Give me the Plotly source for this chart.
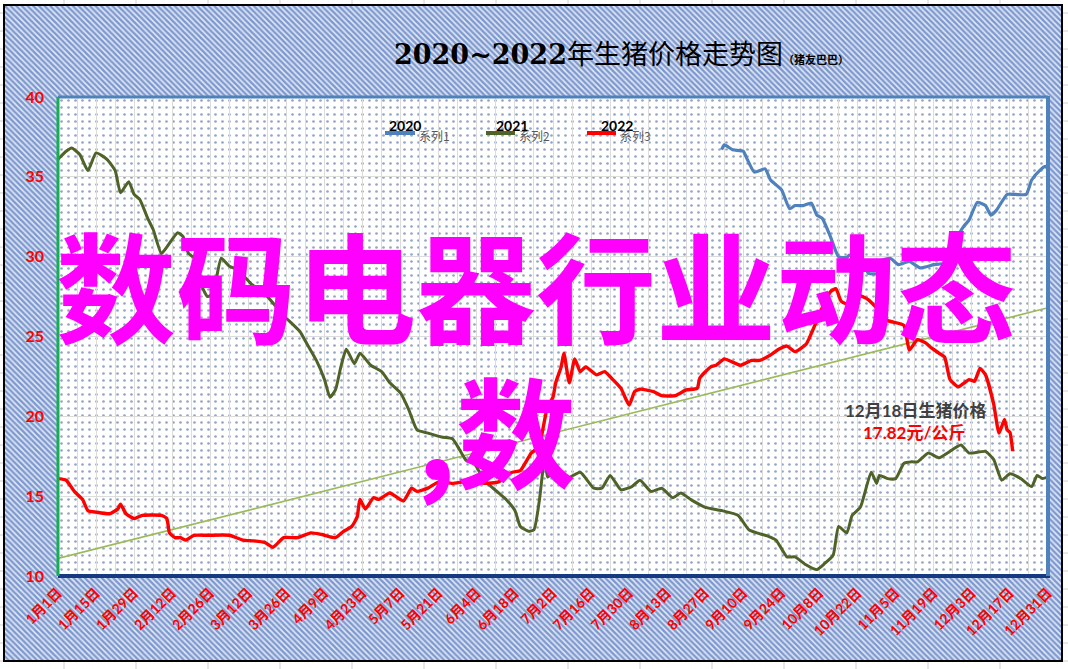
import plotly.graph_objects as go

W, H = 1068, 669


def px(x):
    return x / W


def py(y):
    return 1 - y / H


# ---------------- data ----------------
tick_days = [0, 14, 28, 42, 56, 70, 84, 98, 112, 126, 140, 154, 168, 182,
             196, 210, 224, 238, 252, 266, 280, 294, 308, 322, 336, 350, 364]
tick_labels = ["1月1日", "1月15日", "1月29日", "2月12日", "2月26日", "3月12日",
               "3月26日", "4月9日", "4月23日", "5月7日", "5月21日", "6月4日",
               "6月18日", "7月2日", "7月16日", "7月30日", "8月13日", "8月27日",
               "9月10日", "9月24日", "10月8日", "10月22日", "11月5日", "11月19日",
               "12月3日", "12月17日", "12月31日"]
y_ticks = [10, 15, 20, 25, 30, 35, 40]

series_names = ["系列1", "系列2", "系列3"]
series_years = ["2020", "2021", "2022"]

days_2020 = [244, 245, 248, 252, 253, 256, 260, 262, 266, 269, 271, 274, 277,
             279, 281, 284, 287, 290, 291, 295, 298, 301, 302, 306, 309, 313,
             317, 322, 326, 330, 333, 335, 338, 341, 343, 345, 349, 352, 356,
             358, 361, 363, 364]
price_2020 = [36.7, 37.0, 36.7, 36.6, 36.25, 35.3, 35.5, 34.8, 34.2, 33.0, 33.2,
              33.2, 33.35, 32.6, 32.4, 31.25, 30.0, 29.95, 30.1, 29.8, 28.95,
              28.95, 29.7, 29.9, 29.5, 29.7, 29.3, 29.5, 29.6, 31.05, 31.9, 32.3,
              33.4, 33.2, 32.6, 32.9, 33.9, 33.9, 33.9, 34.8, 35.4, 35.65, 35.5]

days_2021 = [0, 3, 5, 8, 11, 14, 18, 21, 23, 26, 28, 30, 33, 35, 38, 40, 44,
             46, 48, 51, 53, 55, 57, 60, 63, 66, 71, 77, 83, 89, 91, 95, 98,
             100, 102, 104, 106, 109, 111, 115, 119, 122, 126, 129, 132, 136,
             141, 145, 147, 150, 153, 156, 158, 162, 165, 168, 170, 173, 175,
             177, 179, 180, 183, 187, 192, 197, 200, 203, 207, 211, 214, 218,
             222, 226, 229, 233, 238, 244, 250, 254, 257, 261, 264, 268, 271,
             275, 279, 282, 285, 287, 290, 292, 295, 299, 301, 302, 305, 308,
             311, 314, 316, 320, 324, 327, 332, 335, 341, 344, 347, 350, 354,
             358, 360, 362, 364]
price_2021 = [36.1, 36.6, 36.8, 36.4, 35.4, 36.5, 36.1, 35.4, 34.0, 34.7, 33.9,
              33.6, 32.4, 31.7, 30.2, 30.6, 31.5, 31.25, 30.2, 29.8, 28.1, 27.5,
              27.7, 29.9, 29.4, 29.2, 28.3, 27.5, 26.3, 25.3, 24.7, 23.5, 22.3,
              21.2, 21.65, 23.1, 24.2, 23.3, 23.95, 23.2, 22.8, 22.1, 21.45, 20.4,
              19.15, 18.95, 18.7, 18.6, 18.1, 17.25, 17.05, 16.2, 15.8, 15.2,
              14.75, 14.1, 13.1, 12.8, 12.9, 14.75, 17.5, 16.2, 16.6, 16.1, 16.5,
              15.5, 15.5, 16.3, 15.4, 15.6, 16.0, 15.3, 15.5, 14.9, 15.2, 14.75,
              14.3, 14.1, 13.8, 12.9, 12.7, 12.5, 12.25, 11.2, 11.2, 10.7, 10.4,
              10.8, 11.3, 13.1, 12.7, 13.8, 14.3, 16.5, 15.8, 16.3, 16.1, 16.1,
              17.05, 17.15, 17.15, 17.7, 17.4, 17.7, 18.2, 17.7, 17.8, 17.3,
              16.0, 16.4, 16.1, 15.6, 16.3, 16.1, 16.2]

days_2022 = [0, 3, 6, 9, 11, 14, 19, 22, 23, 25, 28, 31, 38, 40, 41, 43, 45,
             47, 50, 55, 63, 68, 72, 76, 79, 83, 88, 93, 97, 102, 105, 108, 110,
             111, 113, 116, 118, 122, 127, 130, 132, 136, 140, 145, 149, 153,
             157, 162, 167, 170, 174, 177, 178, 180, 182, 183, 185, 186, 188,
             190, 192, 194, 198, 201, 204, 207, 210, 212, 214, 219, 222, 227,
             231, 235, 236, 240, 242, 245, 248, 251, 255, 258, 262, 265, 268,
             271, 275, 277, 279, 281, 284, 286, 288, 291, 294, 298, 302, 305,
             311, 313, 316, 319, 321, 324, 326, 328, 331, 335, 337, 339, 341,
             344, 346, 348, 349, 350, 351]
price_2022 = [16.1, 16.0, 15.3, 14.8, 14.1, 14.0, 13.9, 14.2, 14.5, 13.9, 13.6,
              13.8, 13.8, 13.6, 12.7, 12.4, 12.4, 12.25, 12.55, 12.55, 12.55,
              12.25, 12.2, 12.1, 11.8, 12.4, 12.4, 12.7, 12.6, 12.4, 12.8, 13.1,
              13.7, 14.8, 14.2, 14.9, 14.8, 15.2, 14.7, 15.5, 15.3, 15.5, 15.9,
              15.8, 15.9, 15.95, 15.8, 15.9, 16.5, 16.6, 17.7, 18.1, 18.95, 20.6,
              21.2, 22.1, 23.1, 23.95, 22.1, 23.6, 22.8, 23.1, 22.6, 22.8, 22.3,
              21.75, 20.7, 21.55, 21.7, 21.55, 21.3, 21.3, 21.65, 21.75, 22.4,
              23.1, 23.2, 23.6, 23.4, 23.2, 23.5, 23.5, 23.85, 24.2, 24.4, 24.05,
              24.5, 25.2, 26.0, 26.8, 27.8, 28.0, 27.2, 27.0, 27.6, 27.3, 26.6,
              26.0, 25.7, 24.15, 24.8, 24.6, 24.3, 23.95, 23.7, 22.3, 21.85, 22.3,
              22.2, 23.0, 22.6, 20.8, 18.95, 19.8, 19.15, 19.0, 17.82]

trend_days = [0, 364]
trend_values = [11.1, 26.8]

title_main = "2020~2022年生猪价格走势图"
title_sub = "（猪友巴巴）"
note_line1 = "12月18日生猪价格"
note_line2 = "17.82元/公斤"
overlay_line1 = "数码电器行业动态"
overlay_line2 = ",数"

# ---------------- styles ----------------
C_BLUE = "#4f81bd"
C_OLIVE = "#4f6228"
C_RED = "#ff0000"
C_TREND = "#9bbb59"
CJK = "Noto Sans CJK SC"

# plot area in pixels
PL, PR, PT, PB = 58, 1048, 97, 576
# frame in pixels
FL, FR, FT, FB = 4, 1062, 5, 661

fig = go.Figure()

# hatched chart-area background (subplot xy)
fig.add_trace(go.Bar(
    x=[0.5], y=[1], width=[1], xaxis="x", yaxis="y",
    marker=dict(color="#e4ebf7", line=dict(width=0),
                pattern=dict(shape="\\", size=4, solidity=0.62,
                             fgcolor="#1a48a8", bgcolor="#e4ebf7")),
    hoverinfo="skip", showlegend=False))

# dotted plot-area background (subplot x2y2)
fig.add_trace(go.Bar(
    x=[0.5], y=[1], width=[1], xaxis="x2", yaxis="y2",
    marker=dict(color="white", line=dict(width=0),
                pattern=dict(shape=".", size=7, solidity=0.12,
                             fgcolor="#2b4a86", bgcolor="white")),
    hoverinfo="skip", showlegend=False))

# data (subplot x3y3)
fig.add_trace(go.Scatter(
    x=trend_days, y=trend_values, mode="lines", xaxis="x3", yaxis="y3",
    line=dict(color=C_TREND, width=1.6), hoverinfo="skip", showlegend=False))
fig.add_trace(go.Scatter(
    x=days_2021, y=price_2021, mode="lines", name=series_names[1],
    xaxis="x3", yaxis="y3",
    line=dict(color=C_OLIVE, width=3, shape="spline", smoothing=0.5),
    showlegend=False))
fig.add_trace(go.Scatter(
    x=days_2020, y=price_2020, mode="lines", name=series_names[0],
    xaxis="x3", yaxis="y3",
    line=dict(color=C_BLUE, width=3.2, shape="spline", smoothing=0.5),
    showlegend=False))
fig.add_trace(go.Scatter(
    x=days_2022, y=price_2022, mode="lines", name=series_names[2],
    xaxis="x3", yaxis="y3",
    line=dict(color=C_RED, width=3.4, shape="spline", smoothing=0.5),
    showlegend=False))

hidden = dict(visible=False, fixedrange=True, range=[0, 1], automargin=False)
fig.update_layout(
    width=W, height=H, autosize=False,
    margin=dict(l=0, r=0, t=0, b=0, pad=0, autoexpand=False),
    paper_bgcolor="white", plot_bgcolor="rgba(0,0,0,0)",
    bargap=0, showlegend=False,
    xaxis=dict(domain=[px(FL), px(FR)], anchor="y", **hidden),
    yaxis=dict(domain=[py(FB), py(FT)], anchor="x", **hidden),
    xaxis2=dict(domain=[px(PL), px(PR)], anchor="y2", **hidden),
    yaxis2=dict(domain=[py(PB), py(PT)], anchor="x2", **hidden),
    xaxis3=dict(domain=[px(PL), px(PR)], anchor="y3", range=[0, 364],
                automargin=False,
                tickmode="array", tickvals=tick_days, ticktext=tick_labels,
                tickangle=-45, ticks="", showline=False, zeroline=False,
                showgrid=True, gridcolor="#dcdcdc", gridwidth=1,
                minor=dict(tickmode="linear", tick0=0, dtick=7, showgrid=True,
                           gridcolor="#dcdcdc", gridwidth=1, ticks=""),
                tickfont=dict(family="Lato, " + CJK, size=14, color=C_RED,
                              weight="bold"),
                ticklabelstandoff=5, fixedrange=True),
    yaxis3=dict(domain=[py(PB), py(PT)], anchor="x3", range=[10, 40],
                automargin=False,
                tickmode="array", tickvals=y_ticks,
                ticktext=[str(v) for v in y_ticks],
                ticks="", showline=False, zeroline=False,
                showgrid=True, gridcolor="#dcdcdc", gridwidth=1,
                tickfont=dict(family="Lato", size=16, color=C_RED,
                              weight="bold"),
                ticklabelstandoff=13, fixedrange=True),
)

shapes = []
# spreadsheet cell grid visible around the chart frame
for gx in range(64, W, 72):
    shapes.append(dict(type="line", xref="paper", yref="paper", layer="below",
                       x0=px(gx), x1=px(gx), y0=0, y1=1,
                       line=dict(color="#d0d0d0", width=1)))
for gy in range(13, H, 18):
    shapes.append(dict(type="line", xref="paper", yref="paper", layer="below",
                       x0=0, x1=1, y0=py(gy), y1=py(gy),
                       line=dict(color="#d0d0d0", width=1)))
# chart frame
shapes.append(dict(type="rect", xref="paper", yref="paper",
                   x0=px(FL), x1=px(FR), y0=py(FB), y1=py(FT),
                   line=dict(color="black", width=2)))
# plot-area borders
shapes.append(dict(type="line", xref="paper", yref="paper",
                   x0=px(PL), x1=px(PR), y0=py(PT), y1=py(PT),
                   line=dict(color=C_BLUE, width=3)))
shapes.append(dict(type="line", xref="paper", yref="paper",
                   x0=px(PL), x1=px(PR + 2), y0=py(PB), y1=py(PB),
                   line=dict(color="#163a80", width=4)))
shapes.append(dict(type="line", xref="paper", yref="paper",
                   x0=px(PR), x1=px(PR), y0=py(PB), y1=py(PT - 1),
                   line=dict(color=C_BLUE, width=4)))
shapes.append(dict(type="line", xref="paper", yref="paper",
                   x0=px(PL), x1=px(PL), y0=py(PB), y1=py(PT),
                   line=dict(color="#12b050", width=3)))

# legend samples
legend_colors = [C_BLUE, C_OLIVE, C_RED]
legend_line_x = [(385, 415), (486, 515), (587, 616)]
legend_year_x = [405, 512, 617]
legend_name_x = [417, 517, 618]
annotations = []
for i in range(3):
    x0, x1 = legend_line_x[i]
    shapes.append(dict(type="line", xref="paper", yref="paper",
                       x0=px(x0), x1=px(x1), y0=py(133), y1=py(133),
                       line=dict(color=legend_colors[i], width=4)))
    annotations.append(dict(xref="paper", yref="paper", x=px(legend_name_x[i]),
                            y=py(135), xanchor="left", yanchor="middle",
                            text=series_names[i], showarrow=False,
                            font=dict(family=CJK, size=12, color="#595959")))
    annotations.append(dict(xref="paper", yref="paper", x=px(legend_year_x[i]),
                            y=py(126), xanchor="center", yanchor="middle",
                            text="<b>" + series_years[i] + "</b>", showarrow=False,
                            font=dict(family="Lato", size=14, color="black")))

# title
annotations.append(dict(
    xref="paper", yref="paper", x=px(621), y=py(55),
    xanchor="center", yanchor="middle", showarrow=False,
    text=("<span style='font-family:DejaVu Serif'><b>2020~2022</b></span>"
          + title_main[9:]
          + "<span style='font-size:11px'><b>" + title_sub + "</b></span>"),
    font=dict(family="DejaVu Serif, " + CJK, size=27, color="black")))

# call-out
annotations.append(dict(xref="paper", yref="paper", x=px(915), y=py(410),
                        xanchor="center", yanchor="middle", showarrow=False,
                        text="<b>" + note_line1 + "</b>",
                        font=dict(family="Lato, " + CJK, size=17, color="#404040")))
annotations.append(dict(xref="paper", yref="paper", x=px(914), y=py(432),
                        xanchor="center", yanchor="middle", showarrow=False,
                        text="<b>" + note_line2 + "</b>",
                        font=dict(family="Lato, " + CJK, size=17, color=C_RED)))

# magenta overlay text
annotations.append(dict(xref="paper", yref="paper", x=px(536), y=py(283),
                        xanchor="center", yanchor="middle", showarrow=False,
                        text="<b>" + overlay_line1 + "</b>",
                        font=dict(family=CJK, size=120, color="#ff00ff")))
annotations.append(dict(xref="paper", yref="paper", x=px(578), y=py(428),
                        xanchor="right", yanchor="middle", showarrow=False,
                        text="<b>" + overlay_line2 + "</b>",
                        font=dict(family=CJK, size=120, color="#ff00ff")))

fig.update_layout(shapes=shapes, annotations=annotations)

fig.write_html("out.html",
               config={"displayModeBar": False, "staticPlot": True},
               post_script="document.body.style.margin='0px';"
                           "document.body.style.overflow='hidden';")
